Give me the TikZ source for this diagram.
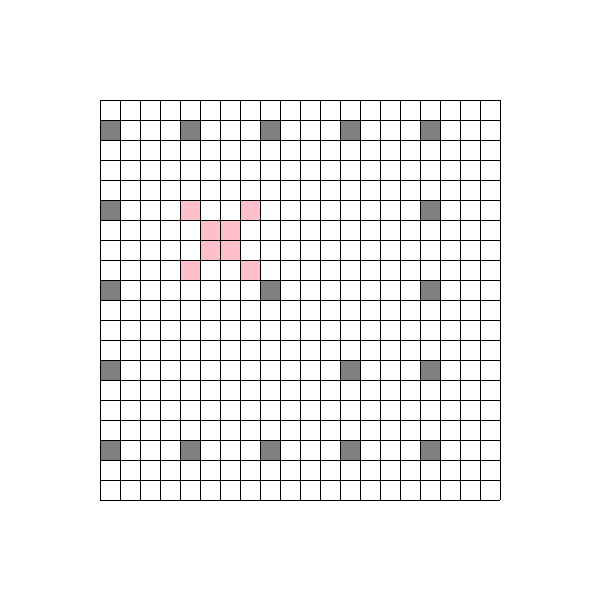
\documentclass[tikz,border=0pt]{standalone}
\definecolor{bloompink}{RGB}{255,192,203}
\begin{document}
\begin{tikzpicture}[scale=0.5, line join=round]
		\tikzset{wall/.style={fill=gray}, bloom/.style={fill=bloompink}}
		\useasboundingbox (-5,-5) rectangle (25,25);
		% gray cells (column, row from top)
		\foreach \c/\r in {0/1,4/1,8/1,12/1,16/1,0/5,16/5,0/9,8/9,16/9,0/13,12/13,16/13,0/17,4/17,8/17,12/17,16/17}
			\fill[wall] (\c,19-\r) rectangle ++(1,1);
		% pink cells
		\foreach \c/\r in {4/5,7/5,5/6,6/6,5/7,6/7,4/8,7/8}
			\fill[bloom] (\c,19-\r) rectangle ++(1,1);
		\draw[line width=0.4pt] (0,0) grid (20,20);
\end{tikzpicture}
\end{document}
